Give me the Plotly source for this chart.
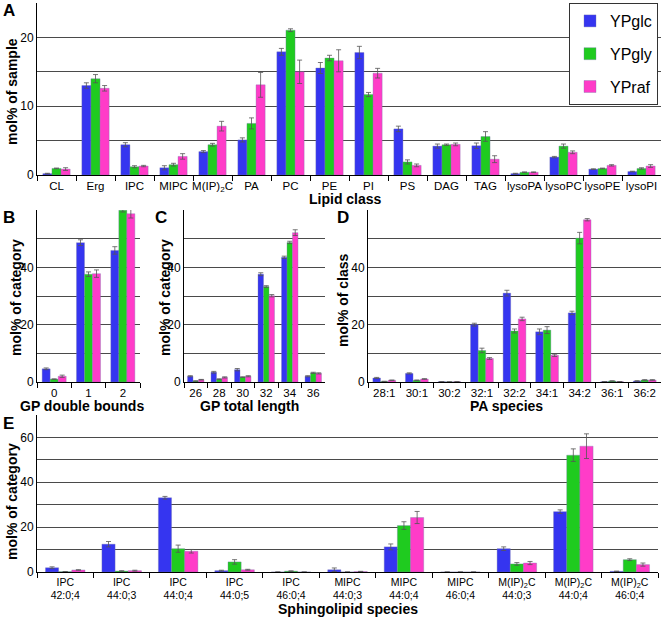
import plotly.graph_objects as go

W, H = 661, 618
BLUE, GREEN, PINK = "#3535F0", "#1FCB1F", "#FF3CC8"
SERIES = ["YPglc", "YPgly", "YPraf"]

# Panel A
A_CLASSES = ["CL", "Erg", "IPC", "MIPC", "M(IP)<sub>2</sub>C", "PA", "PC", "PE", "PI", "PS",
             "DAG", "TAG", "lysoPA", "lysoPC", "lysoPE", "lysoPI"]
A_GLC = [0.2, 13.0, 4.4, 1.05, 3.4, 5.1, 17.9, 15.55, 17.8, 6.7, 4.2, 4.25, 0.2, 2.6, 0.85, 0.5]
A_GLC_ERR = [0.05, 0.4, 0.3, 0.3, 0.15, 0.3, 0.5, 0.8, 0.9, 0.4, 0.3, 0.4, 0.05, 0.1, 0.05, 0.05]
A_GLY = [0.96, 14.0, 1.2, 1.5, 4.4, 7.5, 21.05, 17.0, 11.7, 1.9, 4.4, 5.6, 0.4, 4.2, 0.95, 0.95]
A_GLY_ERR = [0.05, 0.6, 0.15, 0.2, 0.2, 0.8, 0.2, 0.4, 0.3, 0.3, 0.1, 0.7, 0.05, 0.3, 0.05, 0.1]
A_RAF = [0.86, 12.6, 1.3, 2.7, 7.1, 13.1, 15.0, 16.6, 14.8, 1.4, 4.45, 2.3, 0.4, 3.3, 1.4, 1.3]
A_RAF_ERR = [0.2, 0.4, 0.1, 0.4, 0.7, 1.8, 1.7, 1.6, 0.7, 0.2, 0.2, 0.5, 0.05, 0.2, 0.1, 0.2]

# Panel B
B_BONDS = ["0", "1", "2"]
B_GLC = [4.6, 48.6, 45.9]
B_GLC_ERR = [0.3, 1.0, 1.3]
B_GLY = [1.0, 37.6, 59.9]
B_GLY_ERR = [0.1, 0.8, 0.6]
B_RAF = [2.0, 37.8, 58.7]
B_RAF_ERR = [0.4, 1.3, 1.5]

# Panel C
C_LENGTHS = ["26", "28", "30", "32", "34", "36"]
C_GLC = [2.0, 3.4, 4.3, 37.6, 43.5, 2.0]
C_GLC_ERR = [0.2, 0.3, 0.4, 0.5, 0.4, 0.2]
C_GLY = [0.35, 1.0, 1.7, 33.3, 48.7, 3.2]
C_GLY_ERR = [0.05, 0.1, 0.1, 0.3, 0.4, 0.2]
C_RAF = [0.8, 1.6, 2.0, 30.1, 52.1, 3.0]
C_RAF_ERR = [0.1, 0.2, 0.2, 0.4, 1.0, 0.2]

# Panel D
D_SPECIES = ["28:1", "30:1", "30:2", "32:1", "32:2", "34:1", "34:2", "36:1", "36:2"]
D_GLC = [1.4, 3.0, 0.1, 20.0, 31.0, 17.5, 24.1, 0.1, 0.35]
D_GLC_ERR = [0.2, 0.2, 0.05, 0.5, 1.0, 1.0, 0.6, 0.05, 0.1]
D_GLY = [0.2, 0.6, 0.05, 11.0, 17.8, 18.1, 50.2, 0.35, 0.7]
D_GLY_ERR = [0.05, 0.1, 0.02, 0.8, 0.7, 1.2, 2.0, 0.05, 0.1]
D_RAF = [0.6, 1.05, 0.1, 8.2, 22.0, 9.3, 56.6, 0.1, 0.7]
D_RAF_ERR = [0.1, 0.1, 0.05, 0.3, 0.6, 0.4, 0.4, 0.05, 0.1]

# Panel E
E_SPECIES = ["IPC<br>42:0;4", "IPC<br>44:0;3", "IPC<br>44:0;4", "IPC<br>44:0;5", "IPC<br>46:0;4",
             "MIPC<br>44:0;3", "MIPC<br>44:0;4", "MIPC<br>46:0;4",
             "M(IP)<sub>2</sub>C<br>44:0;3", "M(IP)<sub>2</sub>C<br>44:0;4", "M(IP)<sub>2</sub>C<br>46:0;4"]
E_GLC = [1.9, 12.4, 33.1, 0.6, 0.0, 1.0, 11.2, 0.0, 10.4, 26.9, 0.3]
E_GLC_ERR = [0.4, 1.2, 0.6, 0.2, 0.0, 0.8, 1.3, 0.0, 0.8, 0.8, 0.1]
E_GLY = [0.15, 0.45, 10.4, 4.5, 0.4, 0.0, 20.7, 0.0, 3.6, 52.1, 5.5]
E_GLY_ERR = [0.05, 0.1, 1.6, 1.0, 0.1, 0.0, 1.7, 0.0, 0.6, 2.8, 0.4]
E_RAF = [0.9, 0.6, 9.25, 1.0, 0.0, 0.2, 24.3, 0.0, 4.0, 56.1, 3.3]
E_RAF_ERR = [0.1, 0.2, 0.8, 0.2, 0.0, 0.1, 2.7, 0.0, 0.7, 5.5, 0.7]

# y-axis tick labels and extra gridlines per panel
Y_LABELS = [[0, 10, 20], [0, 20, 40], [0, 20, 40], [0, 20, 40], [0, 20, 40, 60]]
Y_MINOR = [[5, 15], [10, 30, 50], [10, 30, 50], [10, 30, 50], [10, 30, 50]]

PANELS = [
    (A_CLASSES, [(A_GLC, A_GLC_ERR), (A_GLY, A_GLY_ERR), (A_RAF, A_RAF_ERR)]),
    (B_BONDS, [(B_GLC, B_GLC_ERR), (B_GLY, B_GLY_ERR), (B_RAF, B_RAF_ERR)]),
    (C_LENGTHS, [(C_GLC, C_GLC_ERR), (C_GLY, C_GLY_ERR), (C_RAF, C_RAF_ERR)]),
    (D_SPECIES, [(D_GLC, D_GLC_ERR), (D_GLY, D_GLY_ERR), (D_RAF, D_RAF_ERR)]),
    (E_SPECIES, [(E_GLC, E_GLC_ERR), (E_GLY, E_GLY_ERR), (E_RAF, E_RAF_ERR)]),
]
COLORS = [BLUE, GREEN, PINK]

fig = go.Figure()
for p, (cats, sers) in enumerate(PANELS):
    ax = "" if p == 0 else str(p + 1)
    for s, (vals, errs) in enumerate(sers):
        errs_clean = [e if (e and v) else None for v, e in zip(vals, errs)]
        fig.add_trace(go.Bar(
            x=cats, y=vals, name=SERIES[s], xaxis="x" + ax, yaxis="y" + ax,
            marker=dict(color=COLORS[s], line=dict(color="rgba(120,120,170,0.6)", width=0.6)),
            error_y=dict(type="data", array=errs_clean, color="#555", thickness=0.8, width=2.5),
            showlegend=(p == 0), legendgroup=SERIES[s], offsetgroup=str(s),
        ))

def px_x(v):
    return v / W

def px_y(v):
    return 1 - v / H

# domains in pixels: (x0, x1, ytop, ybottom)
DOMS = [(37, 661, 3, 175), (37, 140, 210, 382), (184, 325, 210, 382), (368, 661, 210, 382), (37, 658, 415, 572)]
RANGES = [25, 60, 60, 60, 70]

FONT = "Liberation Sans, Arial, sans-serif"
layout = {}
for p, (x0, x1, yt, yb) in enumerate(DOMS):
    ax = "" if p == 0 else str(p + 1)
    xkey, ykey = "xaxis" + ax, "yaxis" + ax
    layout[xkey] = dict(
        domain=[px_x(x0), px_x(x1)], anchor="y" + ax, type="category",
        showline=True, linecolor="black", linewidth=1,
        ticks="outside", tickson="boundaries", ticklen=5, tickcolor="black", tickangle=0,
        tickfont=dict(size=11.5 if p < 4 else 10.5, color="black", family=FONT),
        showgrid=False, automargin=False, fixedrange=True,
    )
    layout[ykey] = dict(
        domain=[px_y(yb), px_y(yt)], anchor="x" + ax, range=[0, RANGES[p]],
        tickmode="array", tickvals=Y_LABELS[p],
        showline=True, linecolor="black", linewidth=1, ticks="",
        showgrid=True, gridcolor="#4a4a4a", gridwidth=1, zeroline=False,
        minor=dict(tickmode="array", tickvals=Y_MINOR[p], showgrid=True,
                   gridcolor="#4a4a4a", gridwidth=1, ticks=""),
        tickfont=dict(size=12, color="black", family=FONT), automargin=False, fixedrange=True,
    )

annotations = []
def ann(text, x, y, size=13, bold=True, angle=0):
    annotations.append(dict(
        text=("<b>%s</b>" % text) if bold else text, x=px_x(x), y=px_y(y),
        xref="paper", yref="paper", showarrow=False, textangle=angle,
        font=dict(size=size, color="black", family=FONT), xanchor="center", yanchor="middle",
    ))

# panel letters
ann("A", 9, 11, size=17)
ann("B", 9, 217, size=17)
ann("C", 161, 217, size=17)
ann("D", 343, 217, size=17)
ann("E", 8, 423, size=17)
# x titles
ann("Lipid class", 345, 199, size=14)
ann("GP double bounds", 82, 406, size=14)
ann("GP total length", 250, 406, size=14)
ann("PA species", 506, 406, size=14)
ann("Sphingolipid species", 348, 609, size=14)
# y titles
ann("mol% of sample", 12, 92, size=14, angle=-90)
ann("mol% of category", 16, 298, size=14, angle=-90)
ann("mol% of category", 165, 298, size=14, angle=-90)
ann("mol% of class", 343, 300, size=14, angle=-90)
ann("mol% of category", 12, 502, size=14, angle=-90)

fig.update_layout(
    width=W, height=H, margin=dict(l=0, r=0, t=0, b=0),
    paper_bgcolor="white", plot_bgcolor="white",
    barmode="group", bargap=0.3, bargroupgap=0,
    font=dict(family=FONT, color="black"),
    legend=dict(x=px_x(658), y=px_y(3), xanchor="right", yanchor="top",
                bordercolor="#333", borderwidth=1, bgcolor="white",
                font=dict(size=16, family=FONT), tracegroupgap=9,
                traceorder="grouped", itemwidth=30),
    annotations=annotations,
    **layout,
)

fig.write_html("out.html", config={"displayModeBar": False, "staticPlot": True},
               post_script="document.body.style.margin='0';document.body.style.padding='0';")
